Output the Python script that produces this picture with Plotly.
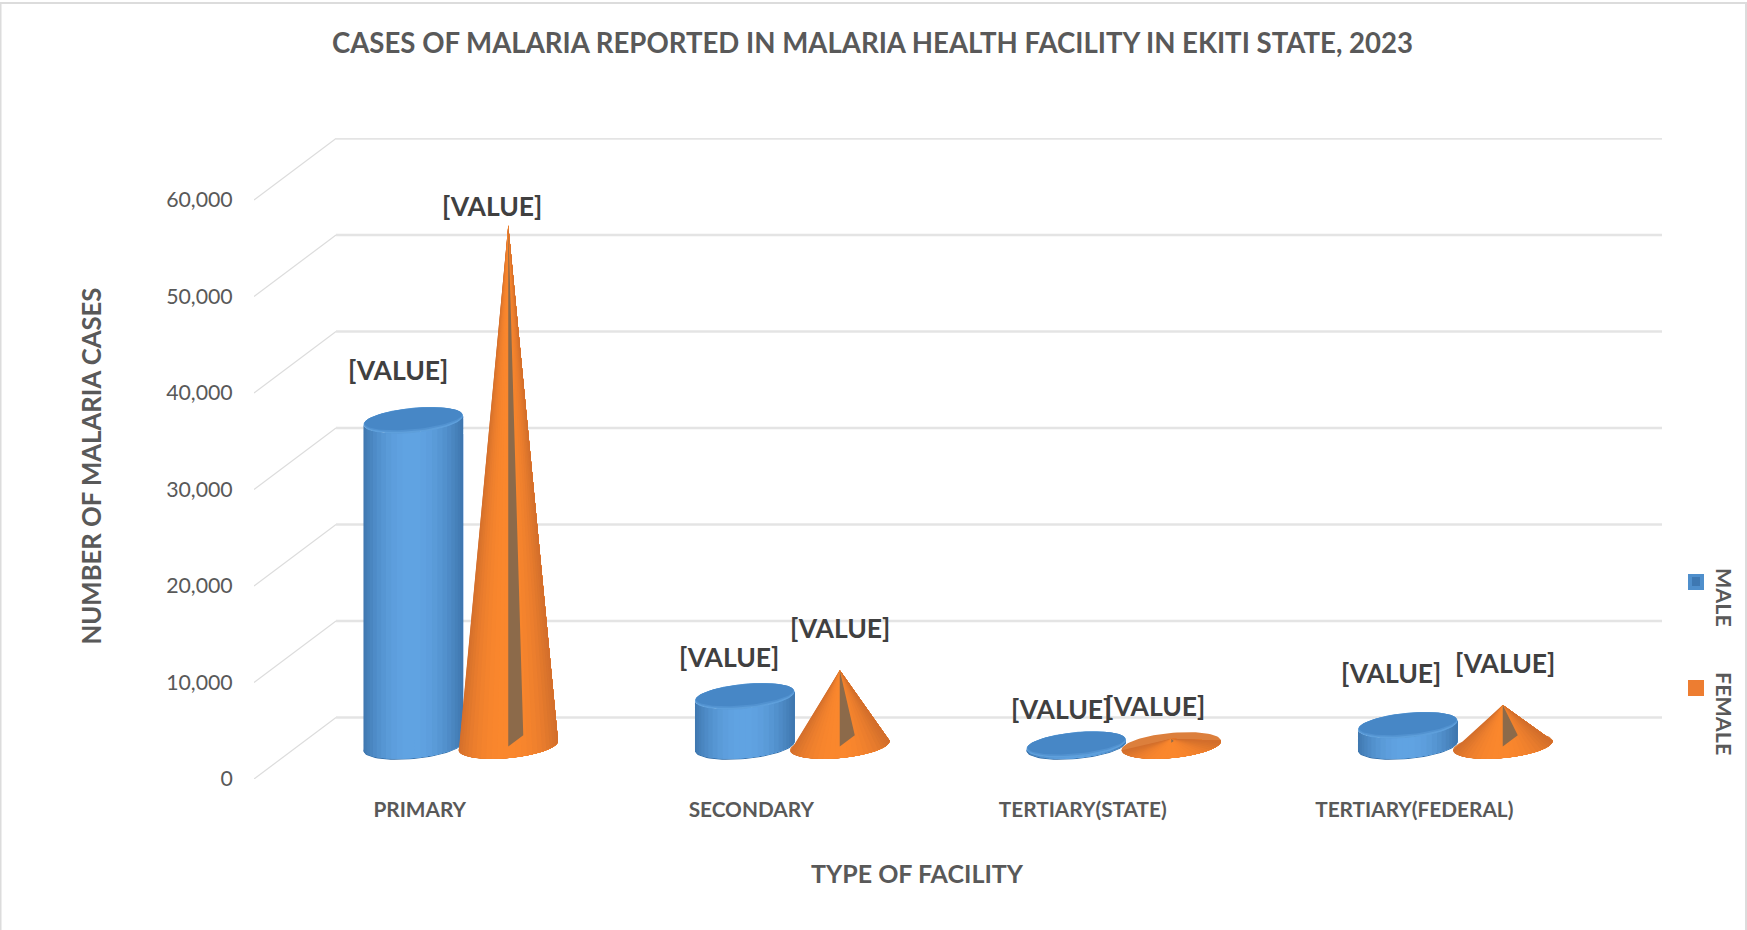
import numpy as np
import plotly.graph_objects as go

# ---------- data ----------
categories = ["PRIMARY", "SECONDARY", "TERTIARY(STATE)", "TERTIARY(FEDERAL)"]
male = [33700, 5100, 100, 2100]
female = [53900, 7800, 700, 4200]
y_ticks = [0, 10000, 20000, 30000, 40000, 50000, 60000]
label_text = "[VALUE]"

# ---------- layout constants (pixels) ----------
W, H = 1747, 930
L, R, T, B = 254, 1662, 138, 779
PX_X = (1580 - 254) / 4.0           # px per category
PX_Y = 96.5 / 10000.0               # px per case
X_RANGE = [-0.5, -0.5 + (R - L) / PX_X]
Y_RANGE = [0, (B - T) / PX_Y]
BACK_DX, BACK_DY = 82 / PX_X, 61.5 / PX_Y   # back wall offset in axis units
MID_DX, MID_DY = 41 / PX_X, 33.5 / PX_Y     # bars stand mid-depth
GROUP = 47.5 / PX_X
RX, RY, TILT = 50.0, 12.5, np.radians(5.5)

male_shift = [(-15, 50), (-16, 39), (-15, 36), (-17, 52)]
female_shift = [(-16, 19), (0, 42), (-16, 33), (2, 42)]

TEXT = "#595959"
LABEL = "#404040"
FONT = "Lato, Carlito, Calibri, sans-serif"


def ell(cx, cy, t, rx=RX, ry=RY):
    """Tilted ellipse around an axis-unit centre; returns axis units."""
    px = rx * np.cos(t)
    py = ry * np.sin(t)          # screen px, y down
    sx = px * np.cos(TILT) + py * np.sin(TILT)
    sy = -px * np.sin(TILT) + py * np.cos(TILT)
    return cx + sx / PX_X, cy - sy / PX_Y


def mix(a, b, f):
    a, b = np.array(a, float), np.array(b, float)
    c = a + (b - a) * f
    return "rgb(%d,%d,%d)" % tuple(c.round())


def add_poly(fig, xs, ys, color, name=None):
    fig.add_trace(go.Scatter(x=xs, y=ys, mode="lines", fill="toself", fillcolor=color,
                             line=dict(width=0, color=color), hoverinfo="skip",
                             showlegend=False, name=name))


def join(polys):
    xs, ys = [], []
    for px, py in polys:
        xs += list(px) + [None]
        ys += list(py) + [None]
    return xs, ys


fig = go.Figure()

# gridlines: back wall and side wall
for v in y_ticks:
    fig.add_trace(go.Scatter(x=[X_RANGE[0], X_RANGE[0] + BACK_DX], y=[v, v + BACK_DY], mode="lines",
                             line=dict(color="#DCDCDC", width=1.2), hoverinfo="skip", showlegend=False))
    fig.add_trace(go.Scatter(x=[X_RANGE[0] + BACK_DX, X_RANGE[1]], y=[v + BACK_DY, v + BACK_DY], mode="lines",
                             line=dict(color="#E4E4E4", width=2.4), hoverinfo="skip", showlegend=False))

full = np.linspace(0, 2 * np.pi, 80)
N = 26
male_centres = [i - GROUP + MID_DX for i in range(len(categories))]
female_centres = [i + GROUP + MID_DX for i in range(len(categories))]

# ---- cylinders ----
polys = [ell(cx, MID_DY - 1.0 / PX_Y, full) for cx in male_centres]
add_poly(fig, *join(polys), "#2F6BA6", "MALE")

C_EDGE, C_MID = (62, 118, 174), (96, 163, 226)
for k in range(N):
    t0 = np.pi * (1 - k / N)
    arc = np.linspace(t0, 0, 40)
    f = 1 - abs(np.cos(t0 - np.pi / N)) ** 2.2
    polys = []
    for cx, v in zip(male_centres, male):
        xt, yt = ell(cx, v + MID_DY, arc)
        xb, yb = ell(cx, MID_DY, arc)
        polys.append((np.r_[xt, xb[::-1]], np.r_[yt, yb[::-1]]))
    add_poly(fig, *join(polys), mix(C_EDGE, C_MID, f))

# caps with a soft bevel
polys = [ell(cx, v + MID_DY, full) for cx, v in zip(male_centres, male)]
add_poly(fig, *join(polys), "#5E9FDB")
polys = [ell(cx, v + MID_DY + 0.8 / PX_Y, full, RX * 0.99, RY * 0.92) for cx, v in zip(male_centres, male)]
add_poly(fig, *join(polys), "#5292D0")
polys = [ell(cx, v + MID_DY + 1.5 / PX_Y, full, RX * 0.98, RY * 0.84) for cx, v in zip(male_centres, male)]
add_poly(fig, *join(polys), "#4787C6")

# ---- cones ----
polys = [ell(cx, MID_DY, full) for cx in female_centres]
add_poly(fig, *join(polys), "#DC7F3C", "FEMALE")

O_EDGE, O_MID = (210, 110, 44), (250, 135, 45)
for k in range(N):
    t0 = np.pi * (1 - k / N)
    arc = np.linspace(t0, 0, 40)
    f = 1 - abs(np.cos(t0 - np.pi / N)) ** 2.5
    polys = []
    for cx, v in zip(female_centres, female):
        xb, yb = ell(cx, MID_DY, arc)
        polys.append((np.r_[cx, xb, cx], np.r_[v + MID_DY, yb, v + MID_DY]))
    add_poly(fig, *join(polys), mix(O_EDGE, O_MID, f))

# slit on each cone
polys = []
for cx, v in zip(female_centres, female):
    h = v * PX_Y
    w = 15.0 * min(1.0, h / 40.0)
    low = h + 1 if h > 20 else h * 0.6
    px = [cx, cx, cx + w / PX_X, cx]
    py = [v + MID_DY, v + MID_DY - low / PX_Y, v + MID_DY - (low - w * 0.75) / PX_Y, v + MID_DY]
    polys.append((px, py))
add_poly(fig, *join(polys), "#8C6A4A")

# ---- data labels ----
annotations = []
for centres, values, shifts in ((male_centres, male, male_shift), (female_centres, female, female_shift)):
    for cx, v, (dx, dy) in zip(centres, values, shifts):
        annotations.append(dict(x=cx, y=v + MID_DY, xref="x", yref="y", text=label_text, showarrow=False,
                                xshift=dx, yshift=dy, xanchor="center", yanchor="middle",
                                font=dict(family=FONT, size=26.5, color=LABEL, weight="bold")))


# ---- legend and axis titles ----
def px_x(p):
    return (p - L) / (R - L)


def px_y(p):
    return (B - p) / (B - T)


for name, py in (("MALE", 597), ("FEMALE", 713)):
    annotations.append(dict(x=px_x(1724), y=px_y(py), xref="paper", yref="paper", text=name, textangle=90,
                            showarrow=False, xanchor="center", yanchor="middle",
                            font=dict(family=FONT, size=21.5, color=TEXT, weight="bold")))

annotations.append(dict(x=px_x(917), y=px_y(872.5), xref="paper", yref="paper", text="TYPE OF FACILITY",
                        showarrow=False, xanchor="center", yanchor="middle",
                        font=dict(family=FONT, size=25, color=TEXT, weight="bold")))
annotations.append(dict(x=px_x(91), y=px_y(466.5), xref="paper", yref="paper", text="NUMBER OF MALARIA CASES",
                        textangle=-90, showarrow=False, xanchor="center", yanchor="middle",
                        font=dict(family=FONT, size=25.7, color=TEXT, weight="bold")))

frame = dict(type="line", xref="paper", yref="paper", line=dict(color="#DCDCDC", width=2), layer="below")
shapes = [
    dict(frame, x0=px_x(0), x1=px_x(1747), y0=px_y(3), y1=px_y(3)),
    dict(frame, x0=px_x(0.5), x1=px_x(0.5), y0=px_y(3), y1=px_y(930)),
    dict(frame, x0=px_x(1746), x1=px_x(1746), y0=px_y(3), y1=px_y(930)),
    dict(type="rect", xref="paper", yref="paper", x0=px_x(1688), x1=px_x(1704), y0=px_y(574), y1=px_y(590),
         fillcolor="#4F8FCC", line=dict(width=0)),
    dict(type="rect", xref="paper", yref="paper", x0=px_x(1692), x1=px_x(1700), y0=px_y(577), y1=px_y(586),
         fillcolor="#3E78B2", line=dict(width=0)),
    dict(type="rect", xref="paper", yref="paper", x0=px_x(1688), x1=px_x(1704), y0=px_y(680), y1=px_y(696),
         fillcolor="#ED7D31", line=dict(width=0)),
]

fig.update_layout(
    width=W, height=H, autosize=False,
    margin=dict(l=L, r=W - R, t=T, b=H - B, pad=0),
    paper_bgcolor="white", plot_bgcolor="rgba(0,0,0,0)",
    showlegend=False,
    font=dict(family=FONT, color=TEXT),
    title=dict(text="CASES OF MALARIA REPORTED IN MALARIA HEALTH FACILITY IN EKITI STATE, 2023",
               x=872.5 / W, xanchor="center", y=1 - 43 / H, yanchor="middle",
               font=dict(family=FONT, size=27.6, color=TEXT, weight="bold")),
    xaxis=dict(range=X_RANGE, tickmode="array", tickvals=list(range(len(categories))), ticktext=categories,
               showgrid=False, zeroline=False, showline=False, ticks="outside", ticklen=12,
               tickcolor="rgba(0,0,0,0)", automargin=False, fixedrange=True,
               tickfont=dict(family=FONT, size=20.8, color=TEXT, weight="bold")),
    yaxis=dict(range=Y_RANGE, tickmode="array", tickvals=y_ticks, tickformat=",d",
               showgrid=False, zeroline=False, showline=False, ticks="outside", ticklen=16,
               tickcolor="rgba(0,0,0,0)", automargin=False, fixedrange=True,
               tickfont=dict(family=FONT, size=21.3, color=TEXT)),
    annotations=annotations, shapes=shapes,
)

fig.write_html("out.html", config={"displayModeBar": False},
               post_script="document.body.style.margin='0';document.documentElement.style.overflow='hidden';")
